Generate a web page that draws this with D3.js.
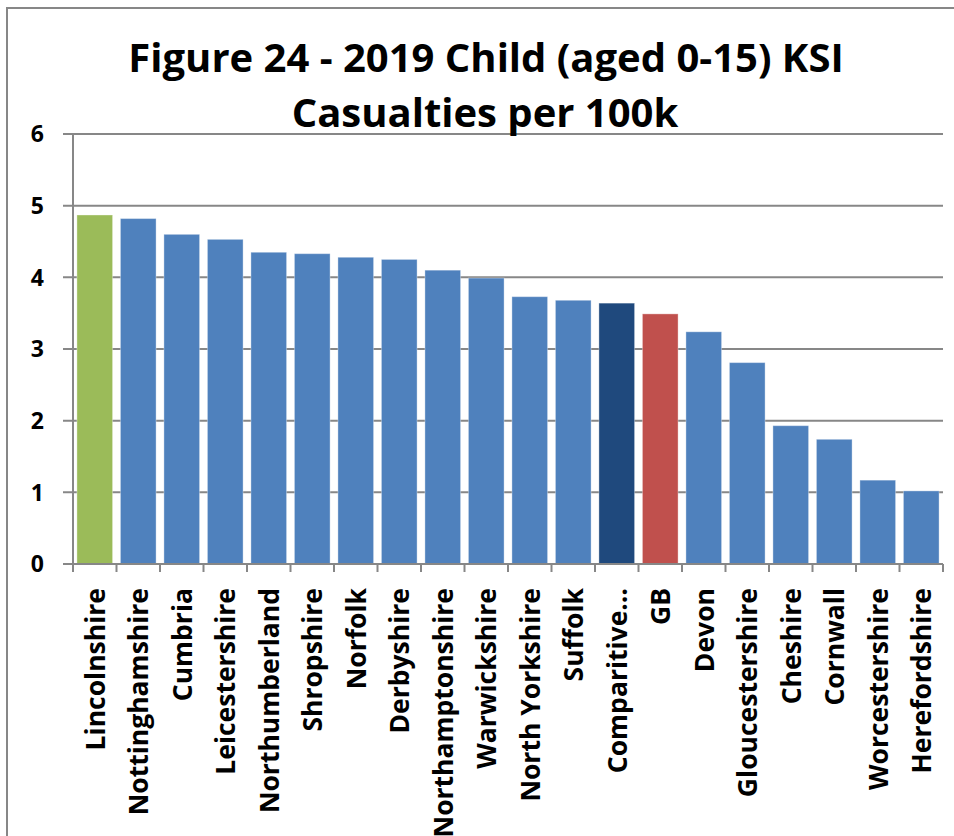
<!DOCTYPE html>
<html>
<head>
<meta charset="utf-8">
<script src="https://cdn.jsdelivr.net/npm/d3@7"></script>
<style>
  html, body { margin: 0; padding: 0; background: #ffffff; }
  svg { display: block; }
  text { font-family: "Open Sans", Lato, "Liberation Sans", sans-serif; font-weight: 700; fill: #000;
         font-variant-ligatures: none; }
</style>
</head>
<body>
<svg id="chart" width="954" height="836"></svg>
<script>
// Child (aged 0-15) KSI casualties per 100k population, 2019
const categories = [
  "Lincolnshire", "Nottinghamshire", "Cumbria", "Leicestershire", "Northumberland",
  "Shropshire", "Norfolk", "Derbyshire", "Northamptonshire", "Warwickshire",
  "North Yorkshire", "Suffolk", "Comparitive…", "GB", "Devon",
  "Gloucestershire", "Cheshire", "Cornwall", "Worcestershire", "Herefordshire"
];
const values = [
  4.87, 4.82, 4.60, 4.53, 4.35,
  4.33, 4.28, 4.25, 4.10, 3.99,
  3.73, 3.68, 3.64, 3.49, 3.24,
  2.81, 1.93, 1.74, 1.17, 1.02
];
// Highlighted entries: the county itself, the comparison group average and GB
const highlight = { "Lincolnshire": "#9BBB59", "Comparitive…": "#1F497D", "GB": "#C0504D" };
const baseColor = "#4F81BD";
const yTicks = [0, 1, 2, 3, 4, 5, 6];
const titleLines = ["Figure 24 - 2019 Child (aged 0-15) KSI", "Casualties per 100k"];

const svg = d3.select("#chart");
const grey = "#878787";

const plot = { left: 73, right: 943, top: 134, bottom: 564 };

const x = d3.scaleBand()
  .domain(categories)
  .range([plot.left, plot.right])
  .paddingInner(0.18)
  .paddingOuter(0.09);

const y = d3.scaleLinear()
  .domain([0, 6])
  .range([plot.bottom, plot.top]);

// Outer frame (top and left edges)
svg.append("path")
  .attr("d", "M7,836 V8 H954")
  .attr("fill", "none")
  .attr("stroke", grey)
  .attr("stroke-width", 2);

// Horizontal gridlines, which also carry the y tick marks
svg.append("g")
  .selectAll("line")
  .data(yTicks)
  .join("line")
  .attr("x1", plot.left - 10)
  .attr("x2", plot.right)
  .attr("y1", d => y(d))
  .attr("y2", d => y(d))
  .attr("stroke", grey)
  .attr("stroke-width", 2);

// Y tick labels
svg.append("g")
  .selectAll("text")
  .data(yTicks)
  .join("text")
  .attr("x", 44)
  .attr("y", d => y(d))
  .attr("dy", "0.36em")
  .attr("text-anchor", "end")
  .style("font-size", "23px")
  .text(d => d);

// Bars
svg.append("g")
  .selectAll("rect")
  .data(categories.map((c, i) => ({ c, v: values[i] })))
  .join("rect")
  .attr("x", d => x(d.c))
  .attr("width", x.bandwidth())
  .attr("y", d => y(d.v))
  .attr("height", d => y(0) - y(d.v))
  .attr("fill", d => highlight[d.c] || baseColor)
  .attr("stroke", "#ffffff")
  .attr("stroke-opacity", 0.35)
  .attr("stroke-width", 1);

// Value axis line
svg.append("line")
  .attr("x1", plot.left).attr("x2", plot.left)
  .attr("y1", plot.top).attr("y2", plot.bottom)
  .attr("stroke", grey)
  .attr("stroke-width", 2);

// Category axis line with tick marks between categories
svg.append("line")
  .attr("x1", plot.left).attr("x2", plot.right)
  .attr("y1", plot.bottom).attr("y2", plot.bottom)
  .attr("stroke", grey)
  .attr("stroke-width", 2);

const half = x.step() * x.paddingInner() / 2;
const boundaries = categories.map(c => x(c) - half).concat([plot.right]);
svg.append("g")
  .selectAll("line")
  .data(boundaries)
  .join("line")
  .attr("x1", d => d).attr("x2", d => d)
  .attr("y1", plot.bottom).attr("y2", plot.bottom + 8)
  .attr("stroke", grey)
  .attr("stroke-width", 2);

// Rotated category labels
svg.append("g")
  .selectAll("text")
  .data(categories)
  .join("text")
  .attr("transform", "rotate(-90)")
  .attr("x", -(plot.bottom + 24))
  .attr("y", d => x(d) + x.bandwidth() / 2)
  .attr("dy", "0.38em")
  .attr("text-anchor", "end")
  .style("font-size", "26.5px")
  .text(d => d);

// Title
svg.append("text")
  .attr("x", 486)
  .attr("y", 72)
  .attr("text-anchor", "middle")
  .style("font-size", "40px")
  .text(titleLines[0]);
svg.append("text")
  .attr("x", 485)
  .attr("y", 127)
  .attr("text-anchor", "middle")
  .style("font-size", "40px")
  .text(titleLines[1]);
</script>
</body>
</html>
